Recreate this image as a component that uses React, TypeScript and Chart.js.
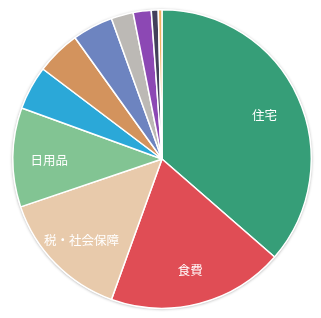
import { useEffect, useRef } from "react";
import { Chart, registerables } from "chart.js";

Chart.register(...registerables);

// Household spending by category (share of monthly total, %)
const categories = [
  "住宅",
  "食費",
  "税・社会保障",
  "日用品",
  "水道光熱費",
  "通信費",
  "交通費",
  "医療費",
  "趣味・娯楽",
  "衣服",
  "その他",
];
const shares = [36.4, 19.1, 14.3, 10.75, 4.75, 4.8, 4.4, 2.4, 1.95, 0.75, 0.4];
const sliceColors = [
  "#369e78",
  "#e04d55",
  "#e8caab",
  "#82c493",
  "#2ba8d8",
  "#d3935d",
  "#6d84c0",
  "#bcb9b5",
  "#8c48b4",
  "#43405a",
  "#f0b060",
];
// Only the larger slices carry a name on the pie
const labelledCategories = ["住宅", "食費", "税・社会保障", "日用品"];

const pieShadow = {
  id: "pieShadow",
  beforeDatasetsDraw(chart: any) {
    const arc = chart.getDatasetMeta(0).data[0];
    if (!arc) return;
    const { x, y, outerRadius } = arc.getProps(["x", "y", "outerRadius"], true);
    const ctx = chart.ctx;
    ctx.save();
    ctx.shadowColor = "rgba(0,0,0,0.35)";
    ctx.shadowBlur = 3;
    ctx.shadowOffsetX = 0;
    ctx.shadowOffsetY = 0.5;
    ctx.fillStyle = "#ffffff";
    ctx.beginPath();
    ctx.arc(x, y, outerRadius + 0.5, 0, Math.PI * 2);
    ctx.fill();
    ctx.restore();
  },
};

const sliceLabels = {
  id: "sliceLabels",
  afterDatasetsDraw(chart: any) {
    const ctx = chart.ctx;
    const meta = chart.getDatasetMeta(0);
    ctx.save();
    ctx.font = '12.5px "Noto Sans CJK JP", sans-serif';
    ctx.fillStyle = "#ffffff";
    ctx.textAlign = "center";
    ctx.textBaseline = "middle";
    meta.data.forEach((arc: any, i: number) => {
      const name = chart.data.labels[i];
      if (!labelledCategories.includes(name)) return;
      const { x, y, startAngle, endAngle, outerRadius } = arc.getProps(
        ["x", "y", "startAngle", "endAngle", "outerRadius"],
        true
      );
      const mid = (startAngle + endAngle) / 2;
      const r = outerRadius * 0.755;
      ctx.fillText(name, x + Math.cos(mid) * r, y + Math.sin(mid) * r + 2.5);
    });
    ctx.restore();
  },
};

export default function App() {
  const canvasRef = useRef<HTMLCanvasElement | null>(null);

  useEffect(() => {
    if (!canvasRef.current) return;
    const chart = new Chart(canvasRef.current, {
      type: "pie",
      data: {
        labels: categories,
        datasets: [
          {
            data: shares,
            backgroundColor: sliceColors,
            borderColor: "#ffffff",
            borderWidth: 1.5,
          },
        ],
      },
      options: {
        animation: false,
        responsive: false,
        maintainAspectRatio: false,
        layout: { padding: { top: 9, bottom: 9, left: 3, right: 0 } },
        plugins: {
          legend: { display: false },
          tooltip: { enabled: false },
          title: { display: false },
        },
      },
      plugins: [pieShadow, sliceLabels],
    });
    return () => chart.destroy();
  }, []);

  return (
    <div style={{ position: "fixed", left: 0, top: 0, width: 321, height: 318, background: "#fff" }}>
      <canvas ref={canvasRef} width={321} height={318} style={{ width: 321, height: 318, display: "block" }} />
    </div>
  );
}
